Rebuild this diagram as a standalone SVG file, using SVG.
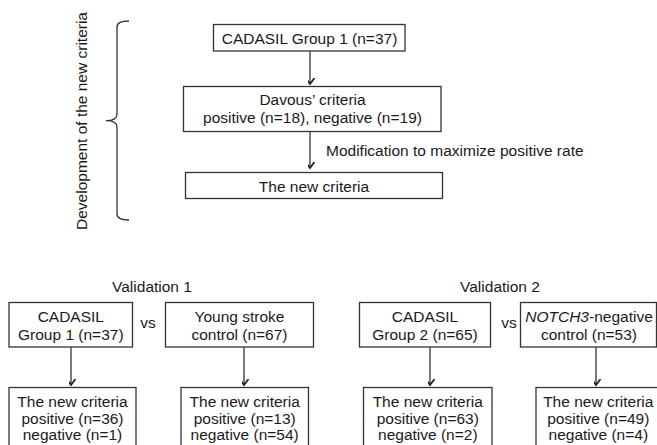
<svg xmlns="http://www.w3.org/2000/svg" width="657" height="445" viewBox="0 0 657 445">
<defs>
<style>
.box{fill:#fff;stroke:#333;stroke-width:1.3}
.t{font-family:"Liberation Sans",Arial,sans-serif;font-size:15.5px;fill:#1a1a1a;text-anchor:middle}
.tl{font-family:"Liberation Sans",Arial,sans-serif;font-size:15.5px;fill:#1a1a1a}
.ln{fill:none;stroke:#333;stroke-width:1.3}
</style>
<marker id="ah" viewBox="-6 -8 12 10" markerWidth="12" markerHeight="10" refX="0" refY="0" orient="auto-start-reverse" markerUnits="userSpaceOnUse">
<path d="M-4.5,-6 L0,0 L4.5,-6" fill="none" stroke="#222" stroke-width="1.8" transform="rotate(-90)"/>
</marker>
</defs>
<rect width="657" height="445" fill="#fff"/>

<g id="bracket">
<path class="ln" d="M129,21 Q117,21 117,27 L117,114 Q117,120.7 106,120.7 Q117,120.7 117,127 L117,214 Q117,220 129,220"/>
<text class="tl" text-anchor="middle" transform="translate(87,121) rotate(-90)">Development of the new criteria</text>
</g>

<g id="connectors">
<line class="ln" x1="310" y1="51" x2="310" y2="84" marker-end="url(#ah)"/>
<line class="ln" x1="310" y1="132" x2="310" y2="168" marker-end="url(#ah)"/>
<line class="ln" x1="71" y1="347" x2="71" y2="385" marker-end="url(#ah)"/>
<line class="ln" x1="244" y1="347" x2="244" y2="385" marker-end="url(#ah)"/>
<line class="ln" x1="430" y1="347" x2="430" y2="385" marker-end="url(#ah)"/>
<line class="ln" x1="596" y1="347" x2="596" y2="385" marker-end="url(#ah)"/>
<text class="tl" x="326" y="156">Modification to maximize positive rate</text>
</g>

<g id="n-group1">
<rect class="box" x="213.5" y="24.5" width="191.5" height="26.5"/>
<text class="t" x="309.5" y="43.5">CADASIL Group 1 (n=37)</text>
</g>
<g id="n-davous">
<rect class="box" x="183.5" y="86.5" width="257.5" height="45"/>
<text class="t" x="312.5" y="105">Davous’ criteria</text>
<text class="t" x="312.5" y="123">positive (n=18), negative (n=19)</text>
</g>
<g id="n-newcriteria">
<rect class="box" x="185.5" y="172.5" width="257" height="26"/>
<text class="t" x="314" y="191.5">The new criteria</text>
</g>

<g id="labels">
<text class="t" x="152" y="291.5">Validation 1</text>
<text class="t" x="500" y="291.5">Validation 2</text>
<text class="t" x="148" y="328">vs</text>
<text class="t" x="509" y="328">vs</text>
</g>

<g id="n-v1-cadasil">
<rect class="box" x="9" y="302.5" width="123.5" height="44.5"/>
<text class="t" x="70.8" y="322">CADASIL</text>
<text class="t" x="70.8" y="339.5">Group 1 (n=37)</text>
</g>
<g id="n-v1-young">
<rect class="box" x="165.5" y="302.5" width="148" height="44.5"/>
<text class="t" x="239.5" y="322">Young stroke</text>
<text class="t" x="239.5" y="339.5">control (n=67)</text>
</g>
<g id="n-v2-cadasil">
<rect class="box" x="359.5" y="302.5" width="131" height="44.5"/>
<text class="t" x="425" y="322">CADASIL</text>
<text class="t" x="425" y="339.5">Group 2 (n=65)</text>
</g>
<g id="n-v2-notch">
<rect class="box" x="520.5" y="302.5" width="136" height="44.5"/>
<text class="t" x="589" y="322"><tspan font-style="italic">NOTCH3</tspan>-negative</text>
<text class="t" x="589" y="339.5">control (n=53)</text>
</g>

<g id="n-v1-res1">
<rect class="box" x="9" y="387.5" width="127" height="70"/>
<text class="t" x="72.5" y="406.5">The new criteria</text>
<text class="t" x="72.5" y="423.5">positive (n=36)</text>
<text class="t" x="72.5" y="440">negative (n=1)</text>
</g>
<g id="n-v1-res2">
<rect class="box" x="181" y="387.5" width="127.5" height="70"/>
<text class="t" x="244.7" y="406.5">The new criteria</text>
<text class="t" x="244.7" y="423.5">positive (n=13)</text>
<text class="t" x="244.7" y="440">negative (n=54)</text>
</g>
<g id="n-v2-res1">
<rect class="box" x="363.5" y="387.5" width="128.5" height="70"/>
<text class="t" x="427.8" y="406.5">The new criteria</text>
<text class="t" x="427.8" y="423.5">positive (n=63)</text>
<text class="t" x="427.8" y="440">negative (n=2)</text>
</g>
<g id="n-v2-res2">
<rect class="box" x="536" y="387.5" width="126" height="70"/>
<text class="t" x="598.3" y="406.5">The new criteria</text>
<text class="t" x="598.3" y="423.5">positive (n=49)</text>
<text class="t" x="598.3" y="440">negative (n=4)</text>
</g>
</svg>
